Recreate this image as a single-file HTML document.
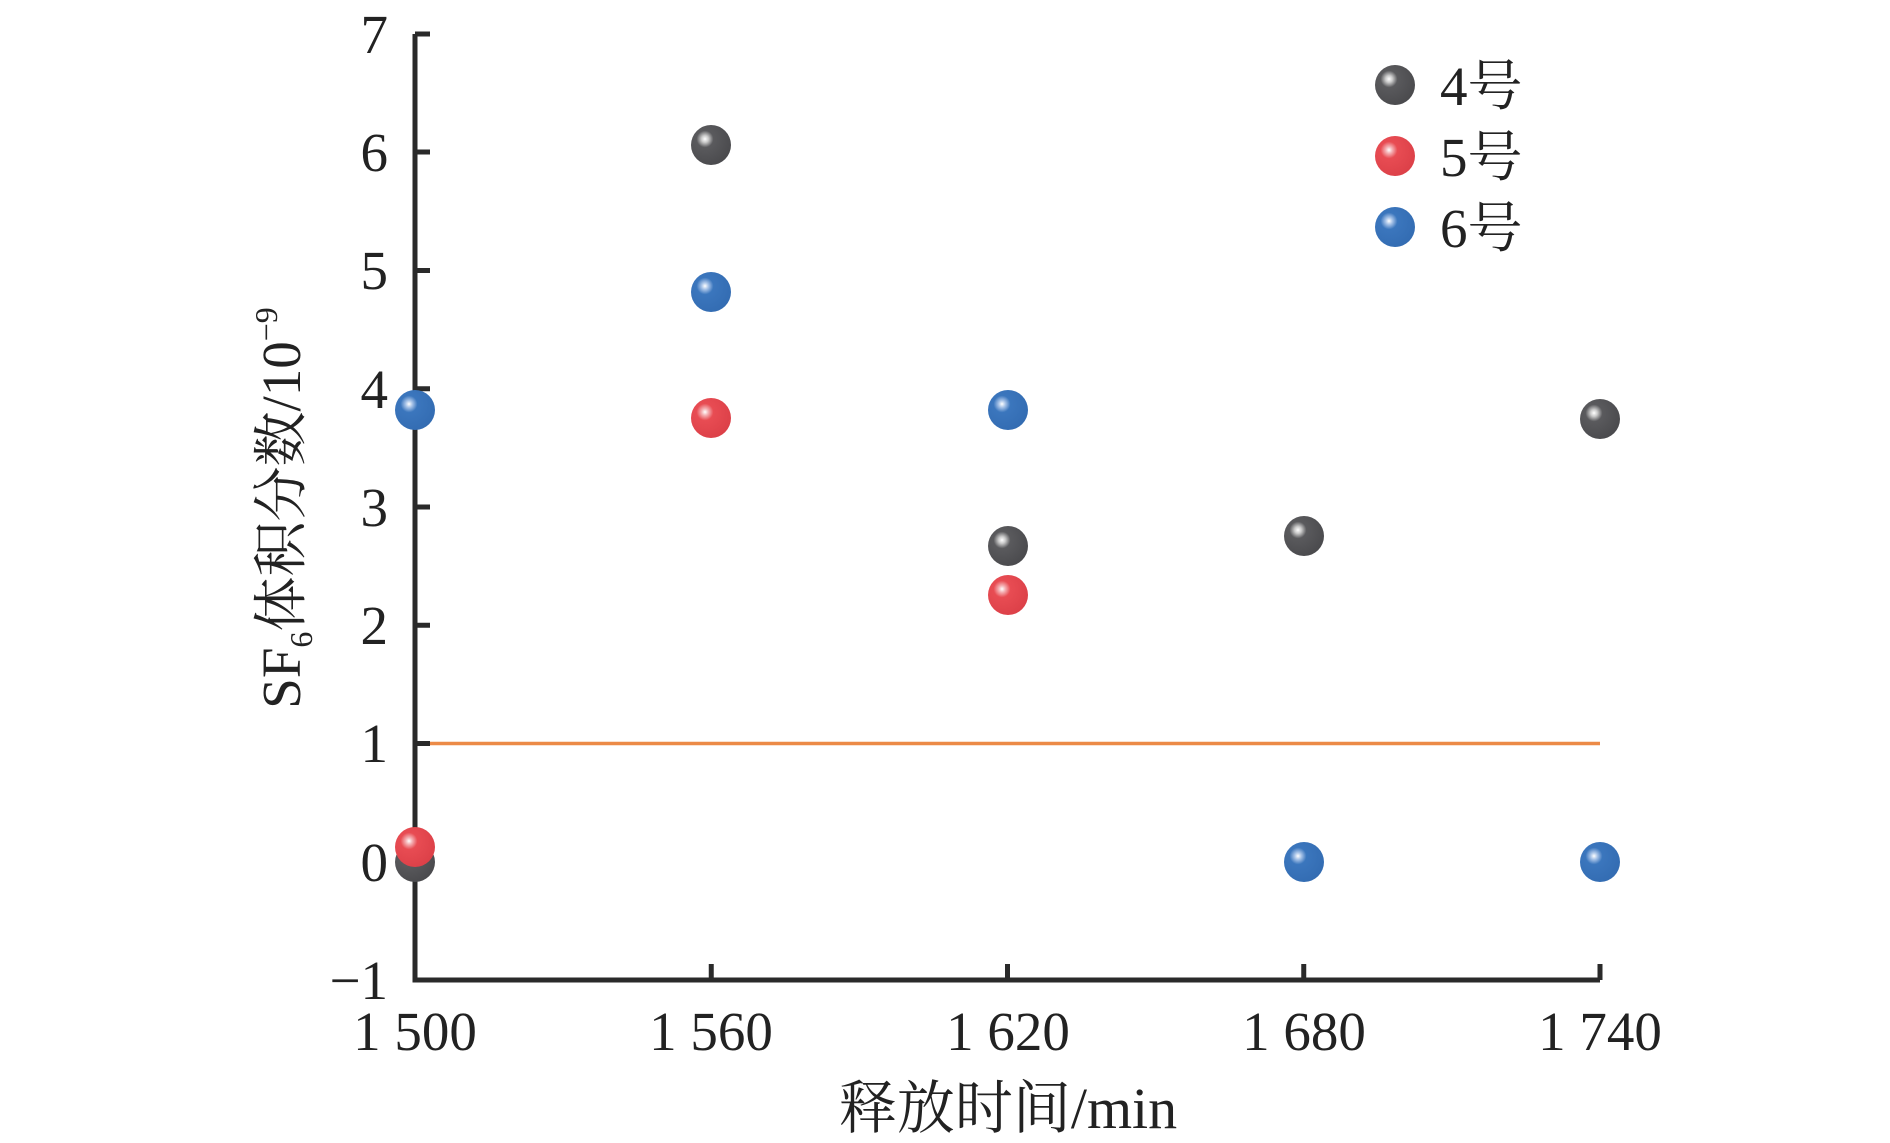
<!DOCTYPE html>
<html><head><meta charset="utf-8"><style>html,body{margin:0;padding:0;background:#fff;}svg{display:block}</style></head>
<body>
<svg width="1890" height="1143" viewBox="0 0 1890 1143" xmlns="http://www.w3.org/2000/svg" font-family="'Liberation Serif','Noto Serif CJK SC',serif" fill="#222">
<defs>
<radialGradient id="g4" cx="0.35" cy="0.35" r="0.7"><stop offset="0" stop-color="#fff"/><stop offset="0.12" stop-color="#ccc"/><stop offset="0.3" stop-color="#5a5a5d"/><stop offset="1" stop-color="#4a4a4d"/></radialGradient>
<radialGradient id="g5" cx="0.35" cy="0.35" r="0.7"><stop offset="0" stop-color="#fff"/><stop offset="0.12" stop-color="#f4b0b3"/><stop offset="0.3" stop-color="#e84c53"/><stop offset="1" stop-color="#dc4048"/></radialGradient>
<radialGradient id="g6" cx="0.35" cy="0.35" r="0.7"><stop offset="0" stop-color="#fff"/><stop offset="0.12" stop-color="#a9c4e8"/><stop offset="0.3" stop-color="#3b76bd"/><stop offset="1" stop-color="#336cb2"/></radialGradient>
</defs>
<line x1="415" y1="743.5" x2="1600" y2="743.5" stroke="#ec8a47" stroke-width="3.5"/>
<g stroke="#2a2a2a" stroke-width="5" fill="none">
<path d="M415 34 V980 H1600"/>
<path d="M415 34H430 M415 152H430 M415 270.5H430 M415 388.75H430 M415 507H430 M415 625.25H430 M415 743.5H430 M415 861.75H430"/>
<path d="M711.25 980V964 M1007.5 980V964 M1303.75 980V964 M1600 980V964"/>
</g>
<g font-size="55" text-anchor="end">
<text x="388" y="53">7</text><text x="388" y="171">6</text><text x="388" y="289">5</text><text x="388" y="408">4</text><text x="388" y="526">3</text><text x="388" y="644">2</text><text x="388" y="762">1</text><text x="388" y="881">0</text><text x="388" y="999">−1</text>
</g>
<g font-size="55" text-anchor="middle">
<text x="415" y="1050">1 500</text><text x="711" y="1050">1 560</text><text x="1008" y="1050">1 620</text><text x="1304" y="1050">1 680</text><text x="1600" y="1050">1 740</text>
</g>
<text x="1008" y="1128" font-size="58" text-anchor="middle">释放时间/min</text>
<g transform="translate(300,508) rotate(-90)">
<text x="0" y="0" font-size="55" text-anchor="middle">SF<tspan font-size="32" dy="12">6</tspan><tspan dy="-12">体积分数/10</tspan><tspan font-size="32" dy="-23">−9</tspan></text>
</g>
<g>
<circle cx="415" cy="862" r="20" fill="url(#g4)"/>
<circle cx="711" cy="145" r="20" fill="url(#g4)"/>
<circle cx="1008" cy="546" r="20" fill="url(#g4)"/>
<circle cx="1304" cy="536" r="20" fill="url(#g4)"/>
<circle cx="1600" cy="419" r="20" fill="url(#g4)"/>
<circle cx="415" cy="847" r="20" fill="url(#g5)"/>
<circle cx="711" cy="418" r="20" fill="url(#g5)"/>
<circle cx="1008" cy="595" r="20" fill="url(#g5)"/>
<circle cx="415" cy="410" r="20" fill="url(#g6)"/>
<circle cx="711" cy="292" r="20" fill="url(#g6)"/>
<circle cx="1008" cy="410" r="20" fill="url(#g6)"/>
<circle cx="1304" cy="862" r="20" fill="url(#g6)"/>
<circle cx="1600" cy="862" r="20" fill="url(#g6)"/>
</g>
<circle cx="1395" cy="85" r="20" fill="url(#g4)"/>
<circle cx="1395" cy="156" r="20" fill="url(#g5)"/>
<circle cx="1395" cy="227" r="20" fill="url(#g6)"/>
<g font-size="55">
<text x="1440" y="105">4号</text><text x="1440" y="176">5号</text><text x="1440" y="247">6号</text>
</g>
</svg>
</body></html>
